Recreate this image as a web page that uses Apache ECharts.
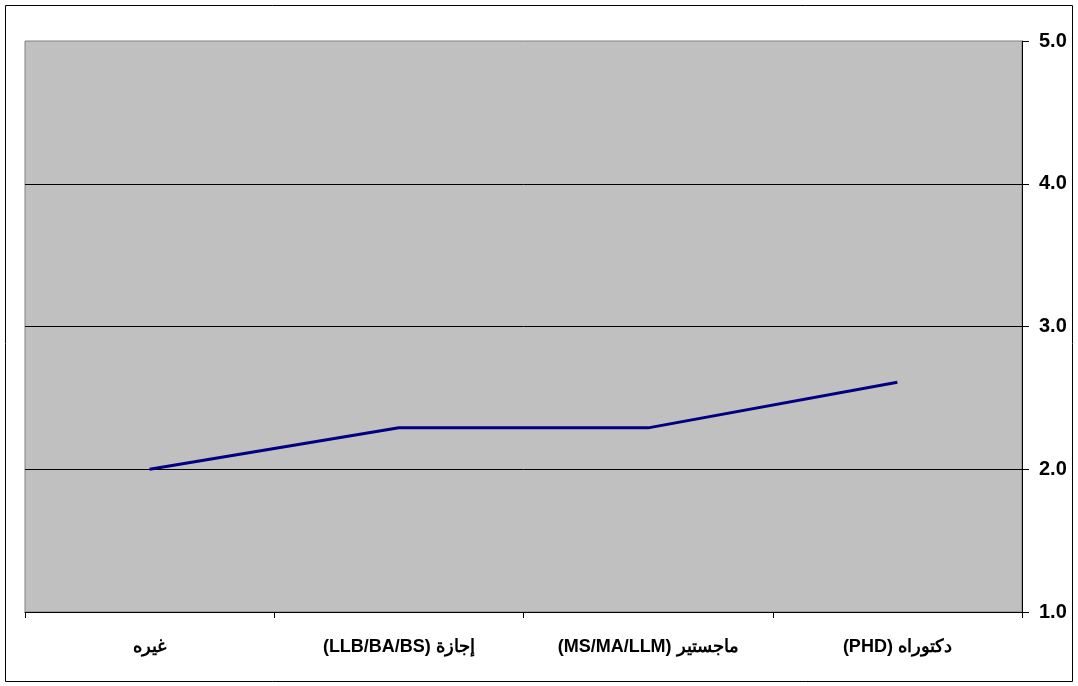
<!DOCTYPE html>
<html>
<head>
<meta charset="utf-8">
<script src="https://cdn.jsdelivr.net/npm/echarts@6/dist/echarts.min.js"></script>
<style>
  html, body { margin: 0; padding: 0; background: #fff; }
  #chart { width: 1078px; height: 686px; }
</style>
</head>
<body>
<div id="chart"></div>
<script>
// Degree categories and their average scores
const categories = ['غيره', 'إجازة (LLB/BA/BS)', 'ماجستير (MS/MA/LLM)', 'دكتوراه (PHD)'];
const scores = [2.0, 2.29, 2.29, 2.61];
const yTicks = { min: 1, max: 5, interval: 1 };

const chart = echarts.init(document.getElementById('chart'));
chart.setOption({
  animation: false,
  backgroundColor: '#ffffff',
  graphic: [{
    type: 'rect',
    shape: { x: 5.5, y: 5.5, width: 1067, height: 676 },
    style: { fill: 'none', stroke: '#000', lineWidth: 1 },
    z: -10
  }],
  grid: {
    left: 25, right: 56, top: 41, bottom: 74,
    show: true,
    backgroundColor: '#C0C0C0',
    borderColor: '#808080',
    borderWidth: 1
  },
  xAxis: {
    type: 'category',
    data: categories,
    boundaryGap: true,
    axisLine: { show: true, lineStyle: { color: '#000', width: 1 } },
    axisTick: { show: true, length: 6, lineStyle: { color: '#000' } },
    axisLabel: {
      color: '#000', fontFamily: 'Liberation Sans, Arial', fontWeight: 'bold',
      fontSize: 18, margin: 26, interval: 0,
      // right-to-left embedding so the Arabic words read on the right
      formatter: v => '\u202B' + v + '\u202C'
    }
  },
  yAxis: {
    type: 'value',
    position: 'right',
    min: yTicks.min, max: yTicks.max, interval: yTicks.interval,
    axisLine: { show: true, lineStyle: { color: '#000', width: 1 } },
    axisTick: { show: true, length: 7, lineStyle: { color: '#000' } },
    axisLabel: {
      color: '#000', fontFamily: 'Liberation Sans, Arial', fontWeight: 'bold',
      fontSize: 20, margin: 17,
      formatter: v => v.toFixed(1)
    },
    splitLine: {
      show: true,
      lineStyle: { color: ['transparent', '#000', '#000', '#000', 'transparent'], width: 1 }
    }
  },
  series: [{
    type: 'line',
    data: scores,
    symbol: 'none',
    lineStyle: { color: '#000080', width: 3 },
    z: 5
  }]
});
</script>
</body>
</html>
